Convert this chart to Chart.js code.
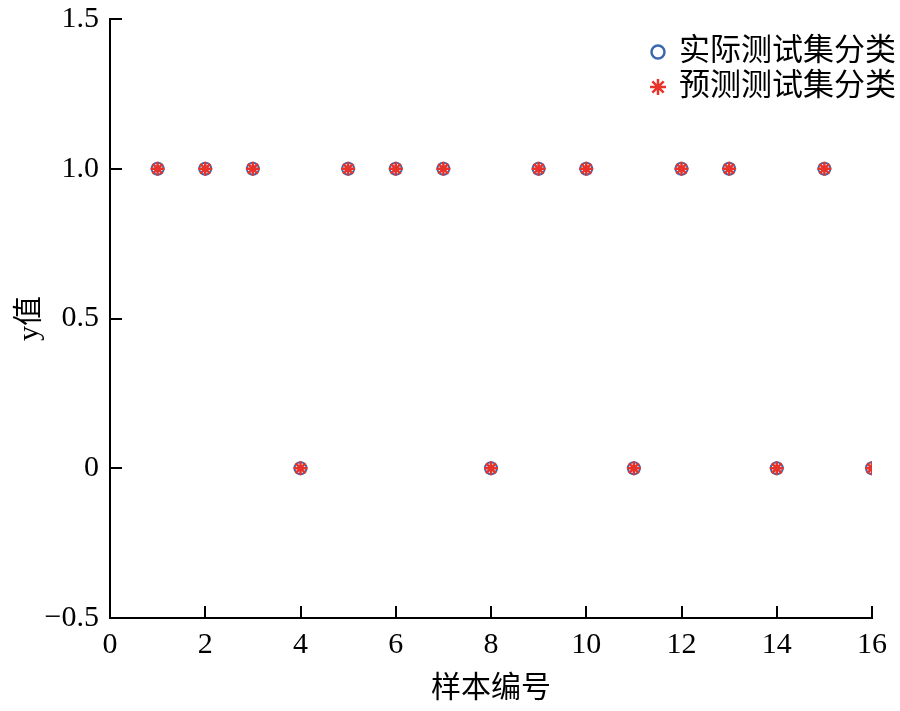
<!DOCTYPE html>
<html>
<head>
<meta charset="utf-8">
<script src="https://cdn.jsdelivr.net/npm/chart.js@4/dist/chart.umd.min.js"></script>
<style>
  html, body { margin: 0; padding: 0; background: #fff; }
  #wrap { width: 900px; height: 711px; }
</style>
</head>
<body>
<div id="wrap"><canvas id="chart" width="900" height="711"></canvas></div>
<script>
const sampleIds = [1, 2, 3, 4, 5, 6, 7, 8, 9, 10, 11, 12, 13, 14, 15, 16];
const actualClass = [1, 1, 1, 0, 1, 1, 1, 0, 1, 1, 0, 1, 1, 0, 1, 0];
const predictedClass = [1, 1, 1, 0, 1, 1, 1, 0, 1, 1, 0, 1, 1, 0, 1, 0];
const legendLabels = ['实际测试集分类', '预测测试集分类'];

const FONT = "'Liberation Serif', 'Noto Sans CJK SC', serif";
const BLUE = '#3d68ad';
const RED = '#e8332b';

// inward tick marks on both axes
const innerTicks = {
    id: 'innerTicks',
    afterDraw(chart) {
        const ctx = chart.ctx;
        const { x, y } = chart.scales;
        const area = chart.chartArea;
        ctx.save();
        ctx.strokeStyle = '#000';
        ctx.lineWidth = 2;
        ctx.beginPath();
        x.ticks.forEach(t => {
            const px = Math.round(x.getPixelForValue(t.value));
            if (px <= area.left + 1) return;
            ctx.moveTo(px, area.bottom);
            ctx.lineTo(px, area.bottom - 12);
        });
        y.ticks.forEach(t => {
            const py = Math.round(y.getPixelForValue(t.value));
            if (py >= area.bottom - 1) return;
            ctx.moveTo(area.left, py);
            ctx.lineTo(area.left + 12, py);
        });
        ctx.stroke();
        ctx.restore();
    }
};

// legend in the upper right corner
const cornerLegend = {
    id: 'cornerLegend',
    afterDraw(chart) {
        const ctx = chart.ctx;
        ctx.save();
        ctx.strokeStyle = BLUE;
        ctx.lineWidth = 2.5;
        ctx.beginPath();
        ctx.arc(658, 52, 6.5, 0, Math.PI * 2);
        ctx.stroke();
        ctx.strokeStyle = RED;
        ctx.fillStyle = RED;
        Chart.helpers.drawPoint(ctx, { pointStyle: 'star', radius: 8, rotation: 0, borderWidth: 2.5 }, 658, 87);
        ctx.fillStyle = '#000';
        ctx.font = "31px " + FONT;
        ctx.textBaseline = 'middle';
        ctx.textAlign = 'left';
        ctx.fillText(legendLabels[0], 679, 52);
        ctx.fillText(legendLabels[1], 679, 87);
        ctx.restore();
    }
};

new Chart(document.getElementById('chart'), {
    type: 'scatter',
    data: {
        datasets: [
            {
                label: legendLabels[1],
                data: sampleIds.map((s, i) => ({ x: s, y: predictedClass[i] })),
                pointStyle: 'star',
                pointRadius: 7,
                borderColor: RED,
                backgroundColor: RED,
                pointBorderWidth: 2.5
            },
            {
                label: legendLabels[0],
                data: sampleIds.map((s, i) => ({ x: s, y: actualClass[i] })),
                pointStyle: 'circle',
                pointRadius: 6,
                borderColor: BLUE,
                backgroundColor: 'rgba(0,0,0,0)',
                pointBorderWidth: 2
            }
        ]
    },
    options: {
        responsive: false,
        animation: false,
        layout: { padding: { top: 19, right: 28, left: 0, bottom: 0 } },
        plugins: {
            legend: { display: false },
            tooltip: { enabled: false }
        },
        scales: {
            x: {
                type: 'linear',
                min: 0,
                max: 16,
                afterFit(scale) {
                    scale.height = 93;
                    scale.paddingLeft = 0;
                    scale.paddingRight = 0;
                },
                border: { color: '#000', width: 2 },
                grid: { drawOnChartArea: false, drawTicks: false },
                ticks: {
                    stepSize: 2,
                    padding: 9,
                    color: '#000',
                    font: { family: FONT, size: 30 }
                },
                title: {
                    display: true,
                    text: '样本编号',
                    color: '#000',
                    font: { family: FONT, size: 30 },
                    padding: { top: 13 }
                }
            },
            y: {
                type: 'linear',
                min: -0.5,
                max: 1.5,
                afterFit(scale) {
                    scale.width = 110;
                    scale.paddingTop = 0;
                    scale.paddingBottom = 0;
                },
                border: { color: '#000', width: 2 },
                grid: { drawOnChartArea: false, drawTicks: false },
                ticks: {
                    stepSize: 0.5,
                    padding: 11,
                    color: '#000',
                    font: { family: FONT, size: 30 },
                    callback: v => v === 0 ? '0' : (v < 0 ? '\u2212' + Math.abs(v).toFixed(1) : v.toFixed(1))
                },
                title: {
                    display: true,
                    text: 'y值',
                    color: '#000',
                    font: { family: FONT, size: 30 },
                    padding: { top: 12, bottom: 0 }
                }
            }
        }
    },
    plugins: [innerTicks, cornerLegend]
});
</script>
</body>
</html>
